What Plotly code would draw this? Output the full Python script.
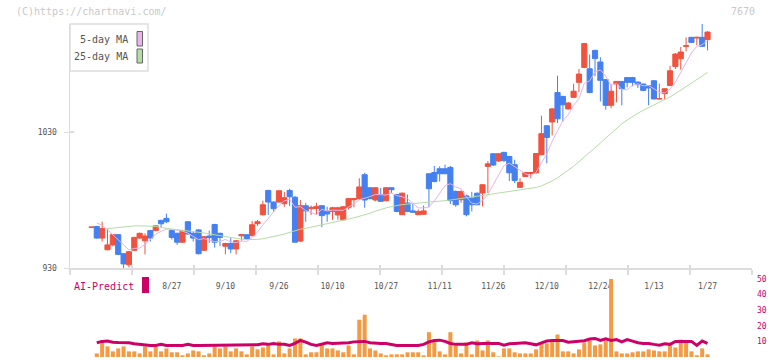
import plotly.graph_objects as go
import pandas as pd

# ---------------- data ----------------
holidays = ["2025-08-11", "2025-09-15", "2025-09-23", "2025-10-13", "2025-11-03",
            "2025-11-24", "2025-12-31", "2026-01-01", "2026-01-02", "2026-01-12"]
dates = pd.bdate_range("2025-08-05", "2026-01-27", freq="C", holidays=holidays)
date_labels = [f"{d.month}/{d.day}" for d in dates]

tick_labels = ["8/27", "9/10", "9/26", "10/10", "10/27", "11/11", "11/26",
               "12/10", "12/24", "1/13", "1/27"]

opens = [960, 960.5, 952, 943.4, 947, 954.5, 940.5, 932.4, 943, 952, 950, 957.5, 957.5, 965, 966.5, 957.5,
         955.5, 949, 964, 955.5, 958, 943, 953.5, 962, 955.5, 946, 948, 944, 953.7, 954.5, 953.7, 962.6,
         969.2, 987, 978.5, 978.5, 977.3, 987, 982, 949.8, 975.8, 973.6, 973.8, 975.8, 971.6, 971.6, 969,
         965.5, 974.6, 980.2, 981, 998.6, 989, 980, 984, 979.5, 989, 984, 969.2, 977.8, 972, 969.2, 969.5,
         999.3, 1000.2, 1003, 1003, 1004, 986.3, 980.2, 983, 981.5, 985, 985.1, 1004.7, 1014, 1008.7, 1015,
         1012, 1006, 989.3, 997.3, 999.5, 1000, 1013.3, 1034.6, 1037.4, 1059, 1056.2, 1047, 1055.5, 1066.5,
         1077.5, 1076.5, 1090, 1081.5, 1068.5, 1049.6, 1065.3, 1067.2, 1070, 1070, 1066.7, 1065.3, 1064,
         1067.7, 1054.2, 1058.2, 1064.2, 1078.2, 1083.9, 1093, 1099.6, 1099.1, 1099.6, 1097.9]
highs = [960, 961, 964, 959, 955, 955, 941, 942.5, 953, 956, 955.5, 958, 961.5, 965.5, 970, 958,
         956, 958, 964.5, 956.5, 958.5, 953.5, 957.5, 962.5, 956, 948.5, 952, 950.5, 955, 955, 964.5, 965.3,
         979.5, 987.5, 979, 987, 986, 988.3, 983, 980, 978, 976, 978, 976, 975, 975, 975,
         975.5, 981.5, 981.5, 996, 1000, 989.5, 989.5, 989, 989.5, 989.5, 984.5, 985.5, 984, 978, 973, 976,
         999.5, 1005, 1004.7, 1006, 1005, 987, 987, 984, 986, 985.5, 991.5, 1008.6, 1014.5, 1014.5, 1015.5,
         1012.5, 1009.6, 996, 1000.5, 1000.5, 1014.5, 1042, 1035, 1047.5, 1071.4, 1056.5, 1052, 1065.5, 1076.3,
         1095.5, 1087, 1090.5, 1085, 1069, 1065, 1067.5, 1067.5, 1070.5, 1070.5, 1067, 1065.5, 1064.5,
         1068, 1065.5, 1062, 1078.7, 1088, 1092.5, 1099.6, 1100, 1100, 1109.6, 1104]
lows = [960, 951.5, 949.5, 943, 946, 939.5, 929.5, 930.5, 942.5, 951.5, 940, 949.5, 957, 960, 963, 951,
        947, 948.5, 954.5, 949.5, 940, 942.5, 948.5, 945, 946, 940, 941, 940, 950, 950.8, 953.5, 961,
        968.5, 969, 971.5, 978, 975, 975.6, 948.5, 949, 964, 969, 969, 960, 964, 965.5, 965.5,
        965, 973, 974.6, 980, 974.3, 980.5, 979, 978.5, 979, 985, 971, 969, 971, 970.5, 969, 969,
        974.6, 993, 993.6, 999, 977, 975, 978, 968, 971.6, 976, 975.3, 985, 1005, 1008, 1008,
        994, 992.5, 989, 996.9, 996, 999.5, 1013, 1007, 1027.5, 1036.6, 1037.8, 1046.5, 1055, 1059.4,
        1077, 1058.5, 1071, 1052.5, 1046.4, 1047.5, 1051.8, 1049.6, 1062.8, 1063.6, 1062.4, 1060, 1049.6,
        1054, 1054, 1054.3, 1064, 1076.3, 1075.8, 1089.3, 1095.5, 1094, 1092.5, 1090]
closes = [960, 952, 959, 947, 954.5, 940, 933, 942, 952.5, 955.5, 953.5, 952, 961, 962.5, 964, 952.5,
          949, 957.5, 955, 952, 940.5, 953, 952.3, 949, 952.5, 948, 944, 950, 954.5, 951.5, 961.8, 964,
          976.5, 978.5, 973.6, 986.8, 981.7, 982.4, 949, 975.8, 972, 974.6, 975.3, 968.5, 969.7, 974.3, 974.3,
          975, 981, 981, 989.6, 980, 981, 989, 979, 989, 987.6, 971.6, 985, 971.6, 971, 971.6, 972,
          988.3, 993.6, 999.3, 999.3, 979.5, 976.5, 986.3, 969.2, 976.5, 976.5, 991.2, 1006.6, 1005.7, 1014, 1009,
          1000, 994.4, 993, 1000.2, 1000.2, 1014.2, 1028.8, 1026, 1047, 1039.7, 1050, 1051.3, 1060, 1072.6,
          1095, 1059, 1084, 1068, 1049.6, 1060, 1067.2, 1061.8, 1066.5, 1066.5, 1064.8, 1060.6, 1062.4,
          1054.3, 1054.6, 1061.8, 1075, 1087.3, 1088.8, 1093.4, 1095.9, 1099.6, 1093, 1103.5]

ma5 = [None, 963.1, 961.4, 958.2, 954.5, 950.5, 946.7, 943.3, 944.4, 944.6,
       947.3, 951.1, 954.9, 956.9, 958.6, 958.4, 957.8, 957.1, 955.6, 953.2,
       950.8, 951.6, 950.6, 949.4, 949.5, 951.0, 949.2, 948.7, 949.8, 949.6,
       952.4, 956.4, 961.7, 966.5, 970.9, 975.9, 979.4, 980.6, 974.7, 975.1,
       972.2, 970.8, 969.3, 973.2, 972.0, 972.5, 972.4, 972.4, 974.9, 977.1,
       980.2, 981.3, 982.5, 984.1, 983.7, 983.6, 985.1, 983.2, 982.4, 981.0,
       977.4, 974.2, 974.2, 974.9, 979.3, 985.0, 990.5, 992.0, 989.6, 988.2,
       982.2, 977.6, 977.0, 979.9, 984.0, 991.3, 998.8, 1005.3, 1007.1, 1004.6,
       1002.1, 999.3, 997.6, 1000.4, 1007.3, 1013.9, 1023.2, 1031.1, 1038.3, 1042.8,
       1049.6, 1054.7, 1065.8, 1067.6, 1074.1, 1075.7, 1071.1, 1064.1, 1065.8, 1061.3,
       1061.0, 1064.4, 1065.4, 1064.0, 1064.2, 1061.7, 1059.3, 1058.7, 1061.6, 1066.6,
       1073.5, 1081.3, 1088.1, 1093.0, 1094.1, 1097.1]
ma25 = [None, None, None, 958.9, 959.4, 959.9, 960.5, 960.8, 961.0, 961.0,
        961.0, 961.0, 960.6, 959.8, 959.0, 958.6, 958.2, 957.8, 957.4, 957.0,
        956.4, 955.8, 955.1, 954.4, 953.6, 952.9, 952.2, 951.6, 951.2, 950.9,
        950.8, 951.0, 951.5, 952.2, 953.0, 954.0, 955.0, 956.2, 957.5, 958.5,
        959.2, 960.0, 960.7, 961.5, 962.6, 963.5, 964.2, 965.0, 966.0, 966.9,
        967.9, 969.0, 970.3, 971.8, 973.2, 974.2, 975.2, 976.0, 976.6, 977.0,
        977.3, 977.6, 977.9, 978.3, 978.7, 979.1, 979.5, 980.0, 980.5, 981.2,
        981.8, 982.3, 982.8, 983.4, 983.9, 984.5, 985.1, 985.7, 986.3, 986.8,
        987.3, 987.8, 988.4, 989.2, 990.4, 992.0, 994.0, 996.3, 999.0, 1001.8,
        1004.8, 1008.2, 1011.5, 1014.6, 1018.3, 1021.9, 1025.5, 1029.2, 1032.8, 1036.0,
        1038.8, 1041.5, 1043.8, 1046.0, 1048.0, 1050.0, 1051.5, 1053.5, 1055.8, 1058.2,
        1060.8, 1063.4, 1065.9, 1068.5, 1071.2, 1073.8]

volume = [None, 2.3, 10.6, 6.8, 3.6, 5.5, 6.8, 3.6, 3.6, 2.3,
          6.8, 3.6, 6.8, 3.6, 5.5, 3.0, 3.0, 1.1, 2.3, 4.2,
          3.6, 1.1, 2.3, 6.8, 5.5, 6.8, 3.6, 5.5, 3.6, 1.7,
          6.8, 4.9, 6.1, 8.1, 1.7, 10.0, 2.3, 5.5, 11.9, 11.9,
          1.7, 3.0, 3.0, 8.1, 5.5, 5.5, 4.2, 3.0, 7.4, 1.7,
          23.9, 27.1, 5.5, 4.2, 2.3, 1.1, 1.7, 1.7, 1.7, 3.0,
          3.0, 3.0, 1.1, 15.9, 9.7, 3.6, 1.7, 15.9, 7.4, 2.3,
          9.3, 1.7, 10.6, 4.2, 10.6, 3.0, 0.4, 5.5, 5.5, 3.0,
          2.3, 2.3, 2.3, 4.9, 8.7, 8.7, 10.0, 14.4, 3.6, 3.6,
          2.3, 4.9, 9.3, 10.6, 7.4, 8.1, 10.6, 50.0, 3.6, 2.3,
          2.3, 3.0, 3.6, 3.6, 4.9, 4.2, 3.6, 3.6, 7.4, 6.1,
          11.2, 10.6, 3.6, 1.1, 5.5, 1.7]
ai_predict = [None, 9.1, 10.0, 10.2, 9.5, 9.3, 9.3, 9.1, 8.5, 8.1,
              7.4, 7.4, 7.4, 8.1, 7.4, 7.4, 7.4, 7.4, 8.1, 7.4,
              7.4, 7.4, 7.4, 7.4, 7.4, 7.4, 7.4, 7.4, 7.4, 7.4,
              7.4, 7.8, 8.5, 8.1, 8.7, 8.1, 8.1, 7.4, 8.7, 10.6,
              9.5, 8.1, 7.4, 8.1, 9.1, 8.7, 8.7, 8.7, 9.1, 9.7,
              10.0, 10.0, 9.1, 8.7, 8.7, 8.7, 8.1, 7.4, 7.4, 7.4,
              7.4, 7.4, 8.1, 9.7, 10.6, 10.8, 10.0, 8.7, 8.1, 8.1,
              8.1, 9.1, 8.5, 8.7, 8.7, 8.7, 8.7, 7.6, 8.5, 8.7,
              8.7, 9.1, 8.5, 7.8, 9.1, 10.2, 10.6, 10.6, 10.6, 9.5,
              9.9, 10.2, 10.4, 11.5, 11.9, 10.6, 11.7, 10.6, 11.2, 9.7,
              11.2, 10.2, 9.1, 8.7, 8.7, 8.1, 7.6, 8.5, 8.1, 10.0,
              10.0, 10.2, 10.0, 7.4, 10.2, 8.7]

y_ticks = [930, 1030]
vol_ticks = [0, 10, 20, 30, 40, 50]

# ---------------- styling / layout ----------------
RED = "#f0523e"
BLUE = "#4480f0"
ORANGE = "#f39a42"
MAGENTA = "#cc0066"
PINK = "#e8b4ea"
GREEN = "#b6dca6"
AXIS = "#dcdcdc"
TXT = "#555555"
FONT = "DejaVu Sans Mono"

W, H = 772, 361
L, R, T, B = 70, 20, 24, 4
PW, PH = W - L - R, H - T - B


def px(x):
    return (x - L) / PW


def py(y):
    return 1 - (y - T) / PH


idx = list(range(len(dates)))
tickvals = [date_labels.index(t) for t in tick_labels]
x_lo, x_hi = -4.0, 123.3
grid_ticks = [x_lo + k * (x_hi - x_lo) / 11 for k in range(12)]
y_lo = 930
y_hi = y_lo + (268 - T) / 1.36

fig = go.Figure()
fig.add_trace(go.Candlestick(
    x=idx, open=opens, high=highs, low=lows, close=closes,
    increasing=dict(line=dict(color=RED, width=1), fillcolor=RED),
    decreasing=dict(line=dict(color=BLUE, width=1), fillcolor=BLUE),
    whiskerwidth=0, showlegend=False, hoverinfo="skip", xaxis="x", yaxis="y"))
fig.add_trace(go.Scatter(x=idx, y=ma5, mode="lines", line=dict(color=PINK, width=1),
                         showlegend=False, hoverinfo="skip", xaxis="x", yaxis="y"))
fig.add_trace(go.Scatter(x=idx, y=ma25, mode="lines", line=dict(color=GREEN, width=1),
                         showlegend=False, hoverinfo="skip", xaxis="x", yaxis="y"))
# carrier trace for the overlay axis that draws the upper half of the grid ticks
fig.add_trace(go.Scatter(x=[None], y=[None], mode="lines", showlegend=False,
                         hoverinfo="skip", xaxis="x3", yaxis="y"))
fig.add_trace(go.Bar(x=idx, y=volume, marker=dict(color=ORANGE, line=dict(width=0)),
                     width=0.75, showlegend=False, hoverinfo="skip", xaxis="x2", yaxis="y2"))
fig.add_trace(go.Scatter(x=idx, y=ai_predict, mode="lines", line=dict(color=MAGENTA, width=3),
                         showlegend=False, hoverinfo="skip", xaxis="x2", yaxis="y2"))

main_dom = [py(268), 1]
vol_dom = [py(357), py(279)]

fig.update_layout(
    template="none",
    width=W, height=H, autosize=False,
    margin=dict(l=L, r=R, t=T, b=B, pad=0),
    paper_bgcolor="white", plot_bgcolor="white",
    font=dict(family=FONT, color=TXT, size=8),
    showlegend=False, boxgap=0.02, boxgroupgap=0.02,
    xaxis=dict(domain=[0, 1], anchor="y", range=[x_lo, x_hi], rangeslider=dict(visible=False),
               automargin=False,
               tickmode="array", tickvals=tickvals, ticktext=tick_labels, ticks="",
               ticklabelstandoff=10, tickfont=dict(family=FONT, size=8, color=TXT),
               showline=True, linecolor=AXIS, linewidth=1.5, showgrid=False, zeroline=False,
               minor=dict(tickmode="array", tickvals=grid_ticks, ticks="outside", ticklen=5,
                          tickcolor=AXIS, tickwidth=1.5, showgrid=False)),
    xaxis3=dict(overlaying="x", anchor="y", side="bottom", range=[x_lo, x_hi], automargin=False,
                tickmode="array", tickvals=grid_ticks, ticks="inside", ticklen=3,
                tickcolor=AXIS, tickwidth=1.5, showticklabels=False, showline=False,
                showgrid=False, zeroline=False),
    yaxis=dict(domain=main_dom, anchor="x", range=[y_lo, y_hi], tickmode="array", tickvals=y_ticks,
               automargin=False,
               ticks="outside", ticklen=5, tickcolor=AXIS, ticklabelstandoff=5,
               tickfont=dict(family=FONT, size=8, color=TXT),
               showline=True, linecolor=AXIS, linewidth=1.5, showgrid=False, zeroline=False,
               minor=dict(tickmode="array", tickvals=[1030.05], ticks="inside", ticklen=4,
                          tickcolor=AXIS, tickwidth=1.5, showgrid=False)),
    xaxis2=dict(domain=[0, 1], anchor="y2", range=[x_lo, x_hi], visible=False, automargin=False),
    yaxis2=dict(domain=vol_dom, anchor="x2", range=[0, 50], side="right", tickmode="array",
                automargin=False,
                tickvals=vol_ticks, ticks="", ticklabelstandoff=4, showline=False, showgrid=False,
                zeroline=False, tickfont=dict(family=FONT, size=8, color=MAGENTA)),
)

shapes = [
    # MA legend box
    dict(type="rect", xref="paper", yref="paper", x0=px(70), x1=px(148), y0=py(71), y1=py(24),
         line=dict(color="#dddddd", width=1.5), fillcolor="white", layer="above"),
    dict(type="rect", xref="paper", yref="paper", x0=px(137), x1=px(142.5), y0=py(46), y1=py(31.5),
         line=dict(color="#666666", width=1), fillcolor=PINK, layer="above"),
    dict(type="rect", xref="paper", yref="paper", x0=px(137), x1=px(142.5), y0=py(63), y1=py(49),
         line=dict(color="#666666", width=1), fillcolor=GREEN, layer="above"),
    # AI-Predict key
    dict(type="rect", xref="paper", yref="paper", x0=px(142), x1=px(149), y0=py(293), y1=py(277),
         line=dict(width=0), fillcolor=MAGENTA, layer="above"),
]
annotations = [
    dict(text="(C)https://chartnavi.com/", xref="paper", yref="paper", x=px(14), y=py(12),
         xanchor="left", yanchor="middle", showarrow=False, font=dict(family=FONT, size=10, color="#c8c8c8")),
    dict(text="7670", xref="paper", yref="paper", x=px(757), y=py(12),
         xanchor="right", yanchor="middle", showarrow=False, font=dict(family=FONT, size=10, color="#c8c8c8")),
    dict(text="5-day MA", xref="paper", yref="paper", x=px(130), y=py(39.5),
         xanchor="right", yanchor="middle", showarrow=False, font=dict(family=FONT, size=10, color=TXT)),
    dict(text="25-day MA", xref="paper", yref="paper", x=px(130), y=py(56.5),
         xanchor="right", yanchor="middle", showarrow=False, font=dict(family=FONT, size=10, color=TXT)),
    dict(text="AI-Predict", xref="paper", yref="paper", x=px(136), y=py(286),
         xanchor="right", yanchor="middle", showarrow=False, font=dict(family=FONT, size=10, color=MAGENTA)),
]
fig.update_layout(shapes=shapes, annotations=annotations)

fig.write_html("out.html", config={"displayModeBar": False, "staticPlot": True},
               post_script="document.body.style.margin='0';document.body.style.padding='0';")
